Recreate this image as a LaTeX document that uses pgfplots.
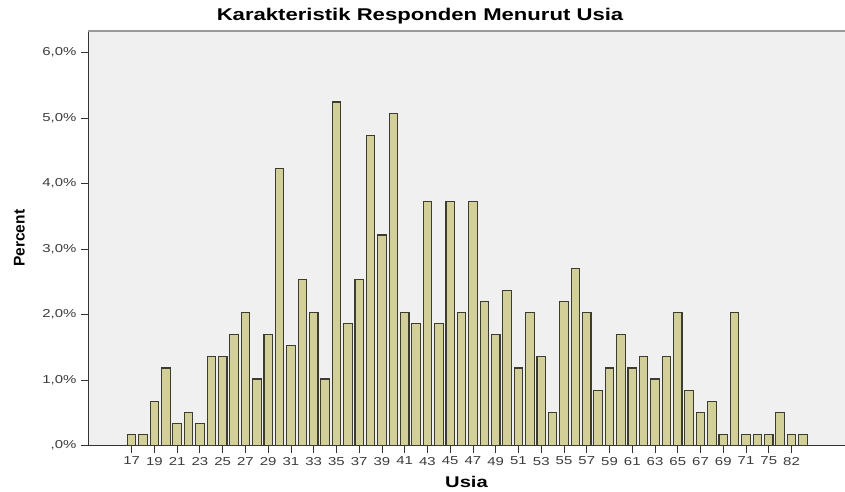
\documentclass[border=0pt]{standalone}
\usepackage{pgfplots}
\pgfplotsset{compat=1.18}
\usepackage{pgfplotstable}
\usepackage{fontspec}
\setmainfont{Liberation Sans}
\newfontfamily\sfx[FakeStretch=1.3]{Liberation Sans}
\definecolor{barfill}{RGB}{211,207,152}
\definecolor{baredge}{RGB}{60,60,48}
\definecolor{bg}{RGB}{240,240,240}
\definecolor{ticktxt}{RGB}{60,60,60}

\pgfplotstableread{
x y
0 0.169
1 0.169
2 0.677
3 1.184
4 0.338
5 0.508
6 0.338
7 1.354
8 1.354
9 1.692
10 2.030
11 1.015
12 1.692
13 4.230
14 1.523
15 2.538
16 2.030
17 1.015
18 5.245
19 1.861
20 2.538
21 4.738
22 3.215
23 5.076
24 2.030
25 1.861
26 3.723
27 1.861
28 3.723
29 2.030
30 3.723
31 2.200
32 1.692
33 2.369
34 1.184
35 2.030
36 1.354
37 0.508
38 2.200
39 2.707
40 2.030
41 0.846
42 1.184
43 1.692
44 1.184
45 1.354
46 1.015
47 1.354
48 2.030
49 0.846
50 0.508
51 0.677
52 0.169
53 2.030
54 0.169
55 0.169
56 0.169
57 0.508
58 0.169
59 0.169
}\usia

\begin{document}
\begin{tikzpicture}
\begin{axis}[
  at={(88pt,45.5pt)}, anchor=south west,
  scale only axis, width=757pt, height=414.5pt,
  xmin=-3.84, xmax=62.7, ymin=0, ymax=6.33,
  axis x line=bottom, axis y line=left,
  axis line style={draw=black!80, line width=0.9pt, -},
  axis background/.style={fill=bg},
  ybar, bar width=8.5pt,
  tick align=outside, major tick length=7pt,
  tick style={draw=black!80, line width=0.9pt},
  xtick={0,2,...,58},
  xticklabels={17,19,21,23,25,27,29,31,33,35,37,39,41,43,45,47,49,51,53,55,57,59,61,63,65,67,69,71,75,82},
  ytick={0,1,2,3,4,5,6},
  yticklabels={{,0\%},{1,0\%},{2,0\%},{3,0\%},{4,0\%},{5,0\%},{6,0\%}},
  tick label style={font=\sfx\fontsize{11.5}{12}\selectfont, text=ticktxt},
  xticklabel style={yshift=-1pt},
  yticklabel style={xshift=-1pt},
  xlabel={\sfx\fontsize{15.5}{16}\selectfont\bfseries Usia},
  xlabel style={at={(axis description cs:0.5,-0.087)}, anchor=center},
  ylabel={\fontsize{15.5}{16}\selectfont\bfseries Percent},
  ylabel style={at={(axis description cs:-0.0905,0.5)}, anchor=center, rotate=0},
  title={\sfx\fontsize{17}{18}\selectfont\bfseries Karakteristik Responden Menurut Usia},
  title style={at={(axis description cs:0.4386,1)}, anchor=base, yshift=5pt},
  clip=false,
]
\addplot[fill=barfill, draw=baredge, line width=1.1pt] table[x=x,y=y]{\usia};
\draw[draw=black!40, line width=1.5pt] (rel axis cs:0,1) -- (rel axis cs:1,1);
\end{axis}
\pgfresetboundingbox
\useasboundingbox (0,0) rectangle (845pt,491pt);
\end{tikzpicture}
\end{document}
